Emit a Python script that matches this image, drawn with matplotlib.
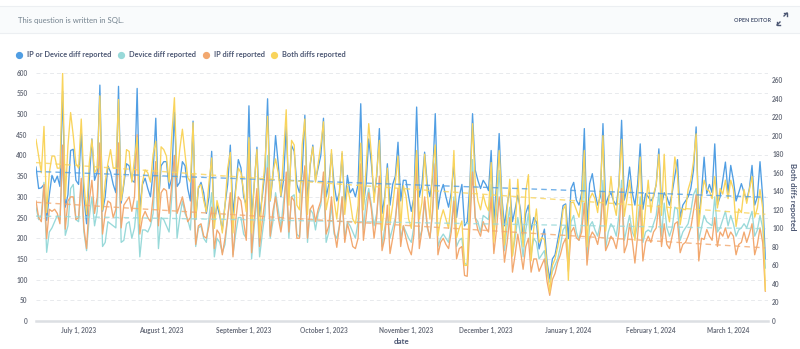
import datetime as dt

import matplotlib
import matplotlib.pyplot as plt
import numpy as np
from matplotlib.lines import Line2D
from matplotlib.patches import Rectangle

matplotlib.use("Agg")

START = dt.date(2023, 6, 15)

# daily counts, one row per week (Thursday .. Wednesday)
ip_or_device = [
    372, 320, 322, 330, 243, 305, 352,
    335, 350, 325, 555, 275, 305, 412,
    415, 340, 330, 460, 300, 235, 340,
    440, 340, 360, 570, 265, 300, 375,
    360, 330, 310, 567, 285, 330, 380,
    375, 340, 335, 562, 270, 330, 345,
    320, 300, 360, 490, 285, 375, 385,
    385, 320, 345, 505, 325, 335, 385,
    375, 320, 290, 483, 245, 320, 335,
    310, 260, 300, 410, 240, 280, 255,
    220, 280, 330, 425, 260, 320, 390,
    370, 300, 280, 520, 250, 330, 420,
    255, 300, 360, 537, 290, 350, 448,
    380, 300, 340, 470, 300, 424, 410,
    330, 310, 360, 497, 290, 375, 425,
    340, 370, 400, 490, 300, 330, 405,
    330, 290, 310, 405, 280, 352, 310,
    320, 300, 330, 525, 280, 330, 440,
    380, 300, 350, 465, 260, 300, 380,
    280, 330, 350, 432, 290, 340, 340,
    300, 265, 300, 517, 300, 330, 408,
    330, 300, 345, 501, 270, 310, 330,
    300, 275, 310, 380, 250, 300, 330,
    230, 240, 330, 501, 365, 340, 320,
    340, 330, 315, 412, 239, 330, 453,
    300, 230, 280, 320, 240, 270, 304,
    270, 199, 260, 280, 220, 250, 239,
    174, 200, 222, 142, 101, 150, 160,
    195, 230, 279, 283, 199, 320, 335,
    292, 280, 310, 465, 230, 332, 356,
    310, 280, 300, 477, 280, 300, 310,
    290, 280, 330, 485, 292, 320, 372,
    310, 280, 330, 428, 270, 308, 300,
    290, 300, 330, 416, 280, 310, 300,
    280, 310, 350, 390, 250, 280, 290,
    300, 320, 364, 469, 243, 310, 396,
    308, 330, 310, 428, 280, 300, 340,
    384, 310, 376, 340, 290, 310, 332,
    310, 292, 320, 376, 280, 300, 385,
    300, 150,
]

device = [
    275, 245, 255, 335, 166, 215, 225,
    240, 255, 245, 400, 207, 230, 320,
    330, 245, 240, 335, 215, 170, 250,
    300, 230, 265, 430, 180, 190, 240,
    235, 230, 225, 430, 190, 195, 235,
    240, 200, 225, 290, 155, 220, 220,
    215, 230, 260, 385, 175, 250, 245,
    230, 215, 300, 400, 200, 250, 290,
    260, 245, 220, 330, 180, 225, 230,
    200, 190, 250, 310, 155, 200, 190,
    165, 185, 250, 300, 160, 210, 250,
    250, 210, 200, 440, 150, 230, 300,
    155, 210, 260, 400, 200, 240, 310,
    270, 225, 290, 340, 200, 300, 305,
    210, 203, 320, 370, 190, 270, 260,
    220, 260, 280, 350, 190, 215, 280,
    210, 200, 230, 300, 200, 240, 230,
    215, 200, 240, 360, 220, 290, 320,
    280, 230, 260, 330, 180, 225, 260,
    200, 225, 250, 300, 200, 230, 215,
    200, 190, 230, 380, 200, 220, 290,
    225, 200, 260, 390, 180, 200, 210,
    200, 190, 230, 300, 180, 195, 200,
    140, 135, 260, 390, 250, 240, 215,
    255, 250, 245, 330, 215, 260, 364,
    250, 170, 230, 275, 158, 200, 250,
    210, 155, 220, 260, 160, 200, 190,
    150, 160, 170, 115, 94, 120, 135,
    150, 180, 220, 230, 140, 240, 255,
    215, 195, 235, 360, 150, 230, 240,
    220, 205, 235, 340, 175, 215, 235,
    225, 205, 255, 340, 195, 225, 255,
    215, 200, 235, 300, 190, 215, 220,
    215, 235, 255, 310, 205, 285, 225,
    205, 225, 275, 270, 195, 215, 225,
    235, 265, 305, 320, 195, 225, 255,
    240, 235, 230, 300, 215, 225, 245,
    265, 230, 255, 235, 205, 220, 225,
    235, 225, 245, 265, 205, 220, 255,
    225, 128,
]

ip = [
    290, 250, 240, 330, 199, 270, 265,
    270, 260, 235, 425, 222, 290, 300,
    300, 245, 250, 345, 225, 175, 290,
    340, 260, 300, 430, 210, 260, 290,
    285, 250, 270, 430, 225, 280, 290,
    300, 265, 300, 450, 210, 250, 265,
    250, 240, 300, 385, 230, 310, 320,
    315, 260, 330, 400, 260, 280, 300,
    270, 240, 250, 355, 185, 230, 235,
    205, 200, 230, 275, 175, 220, 210,
    160, 200, 250, 310, 155, 240, 300,
    290, 240, 195, 430, 165, 250, 320,
    180, 240, 290, 370, 205, 265, 300,
    250, 215, 260, 360, 215, 300, 290,
    200, 200, 300, 375, 200, 270, 280,
    240, 270, 290, 360, 210, 230, 300,
    220, 178, 230, 300, 190, 235, 210,
    180, 175, 200, 380, 195, 250, 310,
    270, 200, 250, 350, 170, 200, 280,
    163, 200, 240, 320, 180, 230, 200,
    175, 160, 210, 400, 175, 220, 300,
    230, 200, 270, 380, 160, 190, 200,
    185, 175, 215, 290, 150, 175, 180,
    110, 108, 230, 360, 250, 220, 205,
    240, 225, 215, 300, 163, 220, 300,
    230, 142, 190, 250, 118, 160, 210,
    170, 125, 180, 200, 118, 150, 150,
    120, 135, 150, 95, 62, 100, 115,
    142, 160, 186, 200, 120, 215, 226,
    201, 195, 215, 285, 135, 200, 215,
    205, 185, 220, 310, 170, 185, 205,
    195, 175, 215, 320, 165, 185, 235,
    195, 140, 205, 280, 145, 190, 205,
    190, 215, 225, 280, 180, 235, 185,
    175, 205, 235, 240, 165, 185, 190,
    205, 225, 265, 305, 145, 200, 197,
    221, 205, 195, 250, 180, 215, 205,
    225, 200, 215, 205, 160, 185, 190,
    215, 190, 210, 235, 160, 185, 225,
    190, 72,
]

# plotted against the right-hand axis
both = [
    196, 178, 160, 210, 117, 160, 178,
    178, 165, 165, 268, 132, 189, 225,
    200, 170, 165, 218, 150, 115, 170,
    196, 160, 165, 243, 120, 150, 170,
    185, 165, 165, 239, 130, 150, 185,
    183, 150, 175, 198, 105, 150, 163,
    160, 150, 180, 194, 120, 188, 185,
    178, 150, 200, 241, 155, 185, 207,
    180, 155, 150, 214, 110, 145, 147,
    130, 118, 150, 176, 100, 130, 118,
    95, 125, 165, 182, 95, 140, 165,
    160, 140, 118, 198, 95, 150, 185,
    90, 140, 170, 221, 130, 160, 175,
    160, 135, 180, 228, 125, 195, 190,
    125, 120, 190, 218, 115, 170, 188,
    150, 170, 190, 215, 120, 135, 185,
    130, 110, 140, 183, 115, 145, 130,
    110, 105, 125, 192, 120, 165, 213,
    180, 128, 160, 195, 98, 130, 165,
    105, 125, 150, 178, 100, 146, 135,
    110, 100, 135, 184, 110, 128, 180,
    138, 110, 165, 190, 92, 110, 120,
    110, 100, 130, 184, 90, 100, 108,
    60, 60, 140, 213, 150, 130, 120,
    136, 125, 119, 171, 85, 135, 184,
    130, 82, 120, 153, 70, 98, 153,
    110, 80, 140, 158, 65, 100, 121,
    85, 90, 88, 60, 31, 60, 67,
    80, 95, 120, 125, 44, 128, 128,
    120, 112, 132, 184, 80, 132, 138,
    132, 117, 142, 200, 97, 127, 156,
    127, 114, 147, 196, 113, 132, 152,
    122, 87, 132, 177, 90, 122, 152,
    117, 137, 147, 180, 114, 180, 122,
    107, 142, 177, 157, 104, 121, 120,
    142, 152, 172, 202, 102, 132, 152,
    142, 140, 132, 156, 122, 143, 137,
    152, 132, 152, 142, 102, 121, 117,
    142, 127, 142, 156, 112, 122, 142,
    122, 33,
]

LABELS = ["IP or Device diff reported", "Device diff reported",
          "IP diff reported", "Both diffs reported"]
COLORS = ["#509EE3", "#98D9D9", "#F2A86F", "#F9D45C"]
TICK_DATES = [dt.date(2023, m, 1) for m in range(7, 13)] + \
             [dt.date(2024, m, 1) for m in range(1, 4)]

W, H = 800, 349
TEXT = "#4c5773"
MUTED = "#74838f"
plt.rcParams["font.family"] = ["Lato", "DejaVu Sans"]


def fx(x):
    return x / W


def fy(y):
    return 1 - y / H


dates = [START + dt.timedelta(days=i) for i in range(len(ip_or_device))]
days = np.arange(len(dates))

fig = plt.figure(figsize=(W / 100, H / 100), dpi=100)

# header strip
fig.patches.append(Rectangle((0, fy(33)), 1, fy(6) - fy(33), transform=fig.transFigure,
                             facecolor="#f9fbfc", edgecolor="none", zorder=0))
for yy in (6, 33):
    fig.add_artist(Line2D([0, 1], [fy(yy), fy(yy)], color="#eceff2", lw=0.8,
                          transform=fig.transFigure))
fig.text(fx(18), fy(20), "This question is written in SQL.", fontsize=5.6,
         color=MUTED, va="center")
fig.text(fx(771), fy(20), "OPEN EDITOR", fontsize=4.0, color=TEXT,
         fontweight="bold", va="center", ha="right")
# expand icon
for (x0, y0, x1, y1) in [(780, 22, 777, 25), (784, 16, 787, 13)]:
    fig.add_artist(Line2D([fx(x0), fx(x1)], [fy(y0), fy(y1)], color=TEXT, lw=1.0,
                          transform=fig.transFigure))
fig.add_artist(Line2D([fx(777), fx(777), fx(780)], [fy(22), fy(25), fy(25)],
                      color=TEXT, lw=1.0, transform=fig.transFigure))
fig.add_artist(Line2D([fx(784), fx(787), fx(787)], [fy(13), fy(13), fy(16)],
                      color=TEXT, lw=1.0, transform=fig.transFigure))

# legend
for dot_x, label, color in zip([19, 121, 206, 274], LABELS, COLORS):
    fig.add_artist(Line2D([fx(dot_x)], [fy(55)], marker="o", markersize=4.2,
                          color=color, transform=fig.transFigure))
    fig.text(fx(dot_x + 8), fy(55), label, fontsize=5.3, color=TEXT,
             fontweight="bold", va="center")

ax = fig.add_axes([fx(36), fy(321), fx(768) - fx(36), fy(72.7) - fy(321)])
ax2 = ax.twinx()

left_series = [ip_or_device, device, ip]
for values, color in zip(left_series, COLORS[:3]):
    ax.plot(dates, values, color=color, lw=0.95, zorder=3)
ax2.plot(dates, both, color=COLORS[3], lw=0.95, zorder=3)

# linear trend lines
for values, color in zip(left_series, COLORS[:3]):
    k, b = np.polyfit(days, values, 1)
    ax2.plot(dates, k * days + b, color=color, lw=1.0, ls=(0, (4, 3)), alpha=0.8,
             transform=ax.transData, zorder=4)
k, b = np.polyfit(days, both, 1)
ax2.plot(dates, k * days + b, color=COLORS[3], lw=1.0, ls=(0, (4, 3)), alpha=0.8,
         zorder=4)

ax.set_ylim(0, 600)
ax2.set_ylim(0, max(both))
ax.set_xlim(dates[0], dates[-1] + dt.timedelta(days=1))
ax.set_yticks(range(0, 601, 50))
ax2.set_yticks(range(0, 261, 20))
ax.grid(axis="y", color="#e8eaed", lw=0.7, ls=(0, (4, 3)))
ax.set_axisbelow(True)

for a in (ax, ax2):
    for side in ("top", "left", "right", "bottom"):
        a.spines[side].set_visible(False)
    a.tick_params(length=0, labelsize=4.7, labelcolor="#696e7b")
ax.axhline(0, color="#dcdfe3", lw=1.8, zorder=2, clip_on=False)

ax.set_xticks(TICK_DATES)
ax.set_xticklabels([f"{d:%B} {d.day}, {d.year}" for d in TICK_DATES],
                   fontweight="bold")
ax.tick_params(axis="x", pad=4)
ax.tick_params(axis="y", pad=6)
ax2.tick_params(axis="y", pad=3)
for lab in ax.get_yticklabels() + ax2.get_yticklabels():
    lab.set_fontweight("bold")

ax.set_xlabel("date", fontsize=5.7, color=TEXT, fontweight="bold", labelpad=3)
ax2.set_ylabel("Both diffs reported", fontsize=5.7, color=TEXT, fontweight="bold",
               rotation=270, labelpad=9)

fig.savefig("out.png", dpi=100)
